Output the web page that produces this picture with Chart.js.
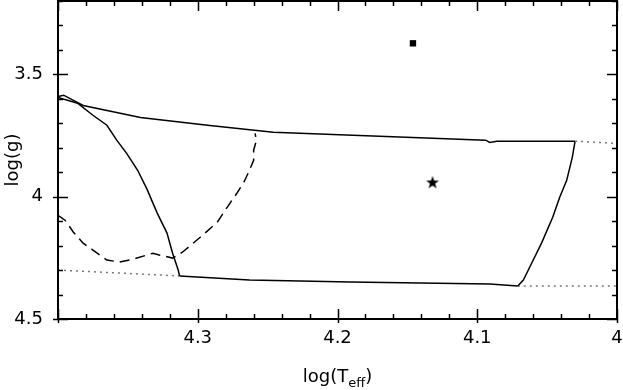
<!DOCTYPE html>
<html>
<head>
<meta charset="utf-8">
<script src="https://cdn.jsdelivr.net/npm/chart.js@4/dist/chart.umd.min.js"></script>
<style>
  html, body { margin: 0; padding: 0; background: #fff; }
  #wrap { width: 623px; height: 390px; }
</style>
</head>
<body>
<div id="wrap"><canvas id="c" width="623" height="390"></canvas></div>
<script>
// ---- Data ----
const upperTeff = [4.400, 4.396, 4.382, 4.341, 4.293, 4.246, 4.170, 4.094, 4.091, 4.086, 4.030];
const upperLogg = [3.590, 3.585, 3.627, 3.676, 3.708, 3.737, 3.753, 3.769, 3.778, 3.773, 3.773];

const upperDotTeff = [4.030, 4.000];
const upperDotLogg = [3.773, 3.782];

const leftTeff = [4.400, 4.386, 4.375, 4.365, 4.358, 4.351, 4.343, 4.336, 4.333, 4.329, 4.322, 4.318, 4.314, 4.313];
const leftLogg = [3.594, 3.618, 3.667, 3.708, 3.769, 3.822, 3.892, 3.973, 4.014, 4.067, 4.149, 4.231, 4.300, 4.324];

const bottomTeff = [4.313, 4.263, 4.191, 4.091, 4.071];
const bottomLogg = [4.324, 4.341, 4.349, 4.357, 4.365];

const rightTeff = [4.030, 4.032, 4.036, 4.041, 4.046, 4.054, 4.061, 4.067, 4.071];
const rightLogg = [3.773, 3.839, 3.933, 4.002, 4.084, 4.190, 4.271, 4.341, 4.365];

const lowDotLeftTeff = [4.400, 4.313];
const lowDotLeftLogg = [4.300, 4.324];
const lowDotRightTeff = [4.071, 4.000];
const lowDotRightLogg = [4.365, 4.365];

const dashTeff = [4.400, 4.395, 4.389, 4.382, 4.375, 4.365, 4.356, 4.346, 4.332, 4.327, 4.318, 4.311, 4.298, 4.286, 4.277, 4.272, 4.267, 4.263, 4.260, 4.260, 4.258, 4.259];
const dashLogg = [4.076, 4.096, 4.145, 4.190, 4.218, 4.259, 4.267, 4.255, 4.231, 4.239, 4.251, 4.227, 4.165, 4.104, 4.027, 3.986, 3.941, 3.892, 3.851, 3.810, 3.769, 3.741];

const squareTeff = [4.146];
const squareLogg = [3.373];
const starTeff = [4.132];
const starLogg = [3.941];

const xTickValues = [4.3, 4.2, 4.1, 4.0];
const xTickLabels = ['4.3', '4.2', '4.1', '4'];
const yTickValues = [3.5, 4.0, 4.5];
const yTickLabels = ['3.5', '4', '4.5'];

// ---- helpers ----
const pts = (xs, ys) => xs.map((x, i) => ({ x: x, y: ys[i] }));
const FONT = '"DejaVu Sans", "Liberation Sans", sans-serif';

function lineDS(xs, ys, style) {
  return Object.assign({
    data: pts(xs, ys),
    showLine: true,
    pointRadius: 0,
    borderColor: '#000',
    borderWidth: 1.5,
    fill: false,
    tension: 0
  }, style || {});
}

function zeroPad(s) { s.paddingTop = 0; s.paddingBottom = 0; s.paddingLeft = 0; s.paddingRight = 0; }

// filled 5-point star marker
const starImg = document.createElement('canvas');
starImg.width = 14; starImg.height = 14;
(function () {
  const g = starImg.getContext('2d');
  g.fillStyle = '#000';
  g.beginPath();
  const cx = 7, cy = 7.5, R = 6.8, r = 2.7;
  for (let i = 0; i < 10; i++) {
    const a = -Math.PI / 2 + i * Math.PI / 5;
    const rad = i % 2 === 0 ? R : r;
    const px = cx + rad * Math.cos(a), py = cy + rad * Math.sin(a);
    if (i === 0) g.moveTo(px, py); else g.lineTo(px, py);
  }
  g.closePath();
  g.fill();
})();

// frame, inward ticks, x title with subscript
const framePlugin = {
  id: 'framePlugin',
  afterDraw(chart) {
    const ctx = chart.ctx;
    const a = chart.chartArea;
    const xs = chart.scales.x, ys = chart.scales.y;
    ctx.save();
    ctx.strokeStyle = '#000';
    ctx.lineWidth = 2;
    ctx.strokeRect(a.left, a.top, a.right - a.left, a.bottom - a.top);
    ctx.lineWidth = 1.5;
    ctx.beginPath();
    // x ticks (minor every 0.02, major every 0.1)
    for (let k = 0; k <= 20; k++) {
      const v = 4.0 + k * 0.02;
      const px = Math.round(xs.getPixelForValue(v)) + 0.5;
      const major = k % 5 === 0;
      const inLen = major ? 10 : 5;
      ctx.moveTo(px, a.bottom + (major ? 4 : 0));
      ctx.lineTo(px, a.bottom - inLen);
      ctx.moveTo(px, a.top);
      ctx.lineTo(px, a.top + inLen);
    }
    // y ticks (minor every 0.1, major every 0.5)
    for (let k = 2; k <= 15; k++) {
      const v = 3.0 + k * 0.1;
      const py = Math.round(ys.getPixelForValue(v)) + 0.5;
      const major = k % 5 === 0;
      const inLen = major ? 10 : 5;
      ctx.moveTo(a.left - (major ? 5 : 0), py);
      ctx.lineTo(a.left + inLen, py);
      ctx.moveTo(a.right, py);
      ctx.lineTo(a.right - inLen, py);
    }
    ctx.stroke();

    // x-axis title: log(T_eff)
    ctx.fillStyle = '#000';
    ctx.textBaseline = 'alphabetic';
    ctx.textAlign = 'left';
    const mainF = '18px ' + FONT, subF = '13px ' + FONT;
    ctx.font = mainF; const w1 = ctx.measureText('log(T').width; const w3 = ctx.measureText(')').width;
    ctx.font = subF; const w2 = ctx.measureText('eff').width;
    const total = w1 + w2 + w3;
    let x0 = (a.left + a.right) / 2 - total / 2;
    const base = 382;
    ctx.font = mainF; ctx.fillText('log(T', x0, base);
    ctx.font = subF; ctx.fillText('eff', x0 + w1, base + 5);
    ctx.font = mainF; ctx.fillText(')', x0 + w1 + w2, base);
    ctx.restore();
  }
};

new Chart(document.getElementById('c'), {
  type: 'scatter',
  data: {
    datasets: [
      lineDS(upperTeff, upperLogg),
      lineDS(upperDotTeff, upperDotLogg, { borderColor: '#777', borderDash: [2, 4] }),
      lineDS(leftTeff, leftLogg),
      lineDS(bottomTeff, bottomLogg),
      lineDS(rightTeff, rightLogg),
      lineDS(lowDotLeftTeff, lowDotLeftLogg, { borderColor: '#777', borderDash: [2, 4] }),
      lineDS(lowDotRightTeff, lowDotRightLogg, { borderColor: '#777', borderDash: [2, 4] }),
      lineDS(dashTeff, dashLogg, { borderDash: [10, 6] }),
      { data: pts(squareTeff, squareLogg), showLine: false, pointStyle: 'rect', pointRadius: 4.5,
        backgroundColor: '#000', borderColor: '#000', borderWidth: 0 },
      { data: pts(starTeff, starLogg), showLine: false, pointStyle: starImg, pointRadius: 7,
        backgroundColor: '#000', borderColor: '#000', borderWidth: 0 }
    ]
  },
  options: {
    responsive: false,
    animation: false,
    events: [],
    layout: { autoPadding: false, padding: { top: 1, right: 6, left: 0, bottom: 0 } },
    plugins: { legend: { display: false }, tooltip: { enabled: false } },
    scales: {
      x: {
        type: 'linear', min: 4.0, max: 4.4, reverse: true, position: 'bottom',
        grid: { display: false, drawTicks: false },
        border: { display: false },
        afterBuildTicks: s => { s.ticks = xTickValues.map(v => ({ value: v })); },
        afterFit: s => { s.height = 71; zeroPad(s); },
        ticks: {
          color: '#000', padding: 9, maxRotation: 0, autoSkip: false,
          font: { family: FONT, size: 18 },
          callback: (v) => { const i = xTickValues.findIndex(t => Math.abs(t - v) < 1e-6); return i >= 0 ? xTickLabels[i] : ''; }
        }
      },
      y: {
        type: 'linear', min: 3.2, max: 4.5, reverse: true, position: 'left',
        grid: { display: false, drawTicks: false },
        border: { display: false },
        afterBuildTicks: s => { s.ticks = yTickValues.map(v => ({ value: v })); },
        afterFit: s => { s.width = 58; zeroPad(s); },
        title: { display: true, text: 'log(g)', color: '#000', font: { family: FONT, size: 18 }, padding: { top: 3, bottom: 0 } },
        ticks: {
          color: '#000', padding: 15, autoSkip: false,
          font: { family: FONT, size: 18 },
          callback: (v) => { const i = yTickValues.findIndex(t => Math.abs(t - v) < 1e-6); return i >= 0 ? yTickLabels[i] : ''; }
        }
      }
    }
  },
  plugins: [framePlugin]
});
</script>
</body>
</html>
